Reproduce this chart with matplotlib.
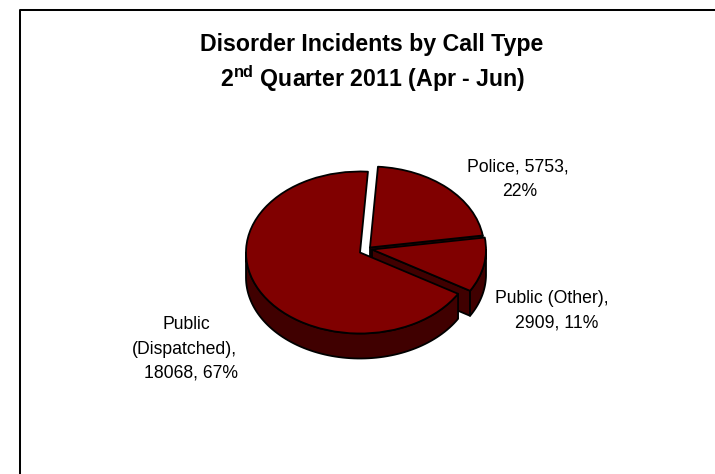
# -*- coding: utf-8 -*-
import numpy as np
import matplotlib

matplotlib.use("Agg")
import matplotlib.pyplot as plt
from matplotlib.lines import Line2D
from matplotlib.patches import Polygon

plt.rcParams["font.family"] = "Liberation Sans"
plt.rcParams["mathtext.fontset"] = "custom"
plt.rcParams["mathtext.bf"] = "Liberation Sans:bold"

# Data
categories = ["Police", "Public (Other)", "Public (Dispatched)"]
calls = [5753, 2909, 18068]
label_lines = ["Police, 5753,", "22%", "Public (Other),", "2909, 11%", "Public", "(Dispatched),", "18068, 67%"]
label_pos = [(517.5, 172), (519.5, 196), (551.5, 303), (557, 328), (186, 329), (184.5, 354), (190.5, 378)]

W, H = 715, 474
cx, cy, rx, ry = 360, 252.5, 114, 81
depth = 25 / ry
# how far each slice is pulled out, in pixels
slice_shift = [(10, -5), (12, -3), (0, 0)]
top_color = "#800000"
side_color = "#400000"


def to_fig(x, y):
    return x / W, 1 - y / H


fig = plt.figure(figsize=(W / 100, H / 100), dpi=100)
ax = fig.add_axes([0, 0, 1, 1])

wedges, _ = ax.pie(
    calls,
    startangle=86,
    counterclock=False,
    colors=[top_color] * 3,
    wedgeprops={"edgecolor": "black", "linewidth": 1.3, "joinstyle": "round"},
)
ax.set_aspect("auto")
ax.set_xlim(-cx / rx, (W - cx) / rx)
ax.set_ylim((cy - H) / ry, cy / ry)
ax.axis("off")

for w, (dx, dy) in zip(wedges, slice_shift):
    w.set_center((dx / rx, -dy / ry))


def rim_point(w, ang):
    a = np.deg2rad(ang)
    return w.center[0] + w.r * np.cos(a), w.center[1] + w.r * np.sin(a)


def add_side(pts, z):
    ax.add_patch(Polygon(pts, closed=True, facecolor=side_color, edgecolor="black",
                         linewidth=1.3, joinstyle="round", zorder=z))


# side walls under each slice, back to front
for i, w in enumerate(wedges):
    z = 2 * i + 1
    w.set_zorder(z + 1)
    # cut face on the clockwise end of the slice
    if i < 2:
        x1, y1 = rim_point(w, w.theta1)
        x0, y0 = w.center
        add_side([(x0, y0), (x1, y1), (x1, y1 - depth), (x0, y0 - depth)], z)
    # curved outer wall, only the part facing the viewer
    for k in (-1, 0):
        lo = max(w.theta1, 180 + 360 * k)
        hi = min(w.theta2, 360 + 360 * k)
        if hi <= lo:
            continue
        a = np.deg2rad(np.linspace(lo, hi, 80))
        xs = w.center[0] + w.r * np.cos(a)
        ys = w.center[1] + w.r * np.sin(a)
        pts = list(zip(xs, ys)) + list(zip(xs[::-1], ys[::-1] - depth))
        add_side(pts, z)

# titles
fig.text(*to_fig(372, 51), "Disorder Incidents by Call Type", ha="center", va="baseline",
         fontsize=16.7, fontweight="bold")
fig.text(*to_fig(372.5, 87), r"$\mathbf{2^{nd}}$ Quarter 2011 (Apr - Jun)", ha="center",
         va="baseline", fontsize=16.7, fontweight="bold")

# data labels
for txt, pos in zip(label_lines, label_pos):
    fig.text(*to_fig(*pos), txt, ha="center", va="baseline", fontsize=12.7)

# chart frame
fig.add_artist(Line2D([20 / W, 20 / W, 1], [0, 1 - 9.5 / H, 1 - 9.5 / H], color="black", linewidth=1.45))

fig.savefig("out.png", dpi=100)
